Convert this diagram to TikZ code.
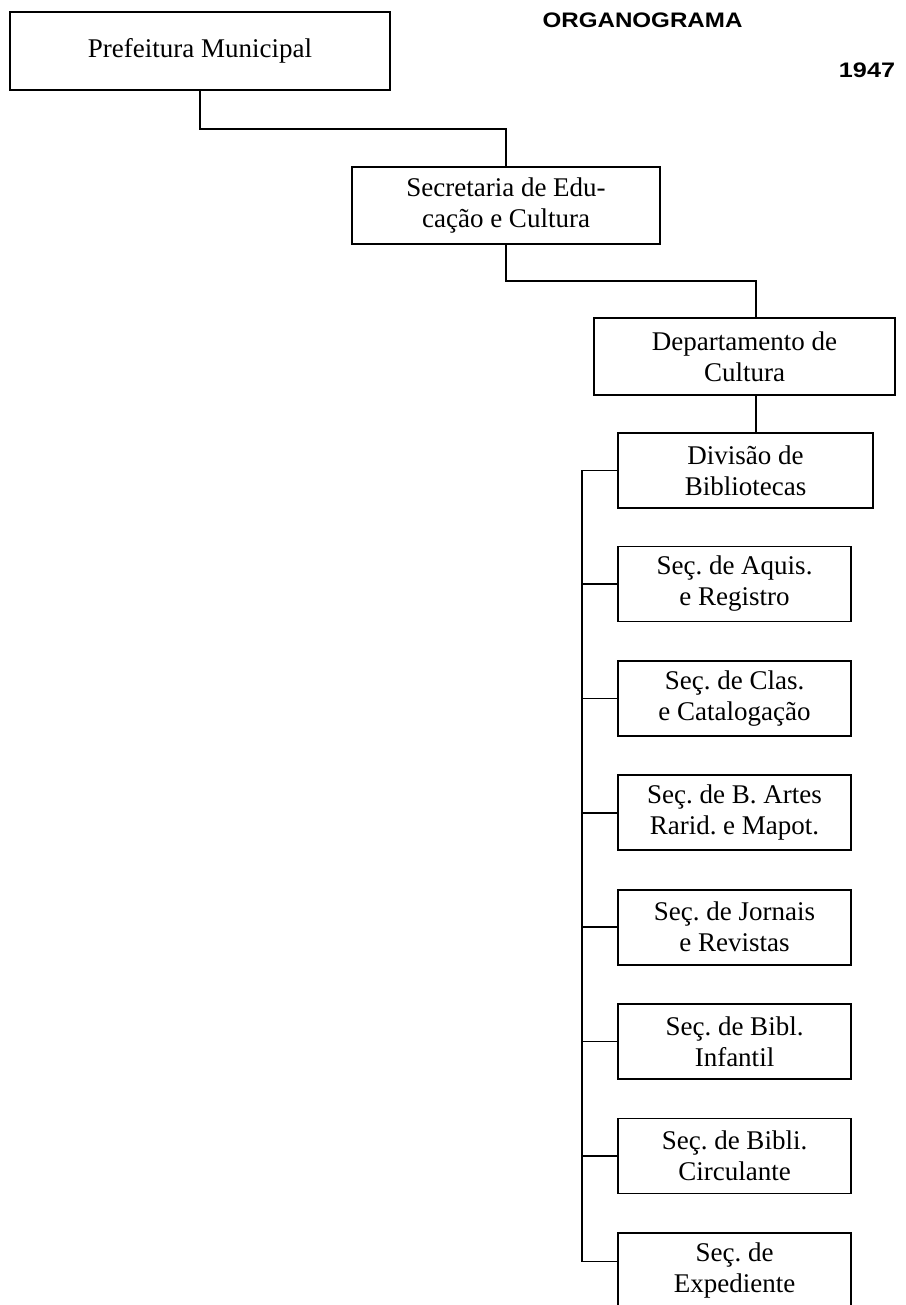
\documentclass[tikz,border=0pt]{standalone}
\usepackage{fontspec}
\setmainfont{Liberation Serif}
\newfontfamily\headfont{Liberation Sans}
\usetikzlibrary{calc}

\begin{document}
\begin{tikzpicture}[x=0.5pt, y=-0.5pt,
  unit/.style={draw, line width=0.9pt, align=center, inner sep=0pt,
    font=\fontsize{13.5}{15.5}\selectfont\frenchspacing},
  secbox/.style={unit, minimum width=116.5pt, minimum height=37.5pt},
  link/.style={line width=0.8pt},
  heading/.style={font=\headfont\bfseries\fontsize{10.5}{12}\selectfont}]
  \useasboundingbox (0,0) rectangle (905,1305);

  % Title
  \node[heading] (title) at (642.5,20) {\scalebox{1.15}[1]{ORGANOGRAMA}};
  \node[heading] (year) at (867,70.5) {\scalebox{1.2}[1]{1947}};

  % Upper levels
  \node[unit, minimum width=190pt, minimum height=39pt] (pref) at (200,51)
    {Prefeitura Municipal};
  \node[unit, minimum width=154pt, minimum height=38.5pt] (secr) at (506,205.5)
    {Secretaria de Edu-\\cação e Cultura};
  \node[unit, minimum width=150.5pt, minimum height=38.5pt] (dept) at (744.5,356.5)
    {Departamento de\\Cultura};
  \node[unit, minimum width=127.5pt, minimum height=37.5pt] (divb) at (745.5,470.5)
    {Divisão de\\Bibliotecas};

  % Sections
  \foreach \name/\txt [count=\i from 0] in {
      saq/{Seç. de Aquis.\\e Registro},
      scl/{Seç. de Clas.\\e Catalogação},
      sba/{Seç. de B. Artes\\Rarid. e Mapot.},
      sjr/{Seç. de Jornais\\e Revistas},
      sbi/{Seç. de Bibl.\\Infantil},
      sbc/{Seç. de Bibli.\\Circulante},
      sexp/{Seç. de\\Expediente}}
    \node[secbox] (\name) at (734.5, 584+114.4*\i) {\txt};

  % Connectors
  \coordinate (bus) at (582,0);
  \coordinate (jx) at (756,0);
  \draw[link] (pref.south) -- ++(0,38) -| (secr.north);
  \draw[link] (secr.south) -- ++(0,36) -| (dept.north -| jx);
  \draw[link] (dept.south -| jx) -- (divb.north -| jx);
  \draw[link] (divb.west) -| ($(sexp.west -| bus)+(0,-9)$) -- ($(sexp.west)+(0,-9)$);
  \foreach \name in {saq,scl,sba,sjr,sbi,sbc}
    \draw[link] (\name.west) -- (\name.west -| bus);
\end{tikzpicture}
\end{document}
